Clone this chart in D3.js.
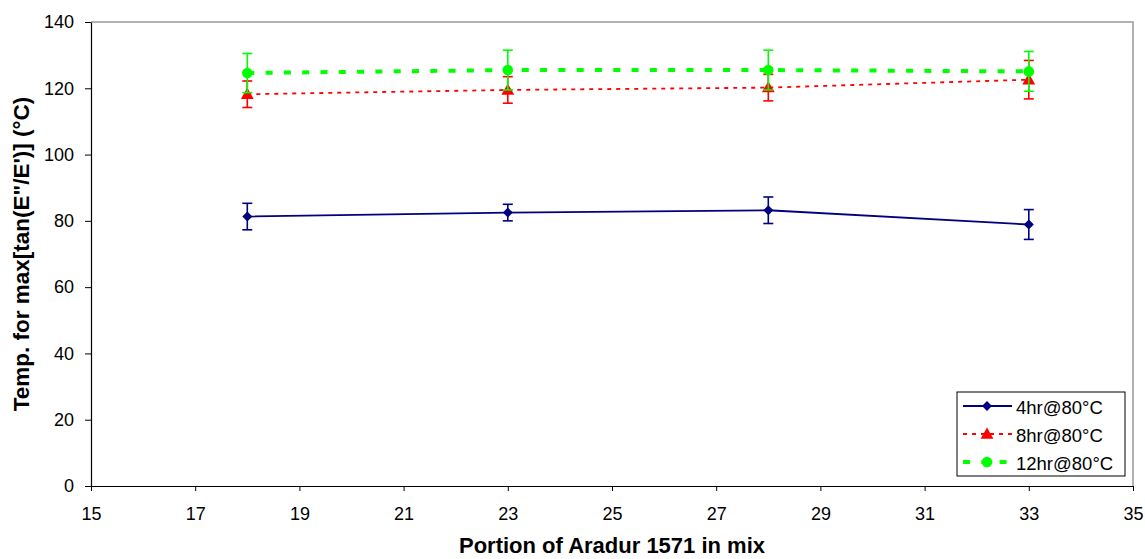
<!DOCTYPE html>
<html>
<head>
<meta charset="utf-8">
<script src="https://cdn.jsdelivr.net/npm/d3@7"></script>
<style>
  html, body { margin: 0; padding: 0; background: #fff; }
  svg { display: block; font-family: Arial, "Liberation Sans", sans-serif; }
</style>
</head>
<body>
<svg id="chart" width="1145" height="559"></svg>
<script>
// Portion of Aradur 1571 in the mix
const portions = [18, 23, 28, 33];

// Temperature at max tan(E"/E') per cure schedule, with error bar half-widths
const temp4hr  = [81.3, 82.5, 83.2, 78.9];
const err4hr   = [4.0, 2.5, 4.0, 4.5];
const temp8hr  = [118.2, 119.5, 120.2, 122.6];
const err8hr   = [4.0, 4.0, 4.0, 5.8];
const temp12hr = [124.6, 125.5, 125.5, 125.1];
const err12hr  = [5.9, 6.0, 6.0, 6.0];

const seriesNames = ["4hr@80°C", "8hr@80°C", "12hr@80°C"];
const xTicks = [15, 17, 19, 21, 23, 25, 27, 29, 31, 33, 35];
const yTicks = [0, 20, 40, 60, 80, 100, 120, 140];

const series = [
  { name: seriesNames[0], values: temp4hr,  errors: err4hr,  color: "#000080", dash: null,   width: 1.8, marker: "diamond" },
  { name: seriesNames[1], values: temp8hr,  errors: err8hr,  color: "#ff0000", dash: "4,5",  width: 1.8, marker: "triangle" },
  { name: seriesNames[2], values: temp12hr, errors: err12hr, color: "#00ff00", dash: "7,11.3", width: 4, marker: "circle" }
];

const svg = d3.select("#chart");
const margin = { left: 91, right: 12, top: 22, bottom: 73 };
const W = 1145, H = 559;

const x = d3.scaleLinear().domain([15, 35]).range([margin.left, W - margin.right]);
const y = d3.scaleLinear().domain([0, 140]).range([H - margin.bottom, margin.top]);

// Plot area border (top and right)
svg.append("path")
  .attr("d", `M${x(15)},${y(140)}H${x(35)}V${y(0)}`)
  .attr("fill", "none").attr("stroke", "#999").attr("stroke-width", 1.5);

// Axes
const xAxis = svg.append("g")
  .attr("transform", `translate(0,${y(0)})`)
  .call(d3.axisBottom(x).tickValues(xTicks).tickFormat(d3.format("d")).tickSize(5).tickSizeOuter(0));
const yAxis = svg.append("g")
  .attr("transform", `translate(${x(15)},0)`)
  .call(d3.axisLeft(y).tickValues(yTicks).tickFormat(d3.format("d")).tickSize(6).tickSizeOuter(0));

[xAxis, yAxis].forEach(g => {
  g.select(".domain").attr("stroke", "#000").attr("stroke-width", 1.2);
  g.selectAll(".tick line").attr("stroke", "#000");
  g.selectAll(".tick text").attr("fill", "#000").style("font-size", "18px")
    .style("font-family", "Arial, 'Liberation Sans', sans-serif");
});
xAxis.selectAll(".tick text").attr("y", 34).attr("dy", null);
yAxis.selectAll(".tick text").attr("x", -17);

// Axis titles
svg.append("text")
  .attr("x", (x(15) + x(35)) / 2).attr("y", 553)
  .attr("text-anchor", "middle")
  .style("font-size", "22px").style("font-weight", "bold")
  .text("Portion of Aradur 1571 in mix");
svg.append("text")
  .attr("transform", `translate(29,${(y(0) + y(140)) / 2}) rotate(-90)`)
  .attr("text-anchor", "middle")
  .style("font-size", "22.5px").style("font-weight", "bold")
  .text("Temp. for max[tan(E\"/E')] (°C)");

function drawMarker(g, type, cx, cy, color) {
  if (type === "diamond") {
    g.append("path").attr("d", d3.symbol(d3.symbolDiamond2, 64)())
      .attr("transform", `translate(${cx},${cy})`).attr("fill", color);
  } else if (type === "triangle") {
    g.append("path").attr("d", d3.symbol(d3.symbolTriangle, 72)())
      .attr("transform", `translate(${cx},${cy + 1})`).attr("fill", color);
  } else {
    g.append("circle").attr("cx", cx).attr("cy", cy).attr("r", 5.3).attr("fill", color);
  }
}

const line = d3.line().x(d => x(d[0])).y(d => y(d[1]));

series.forEach(s => {
  const g = svg.append("g");
  const pts = portions.map((p, i) => [p, s.values[i], s.errors[i]]);
  // Error bars
  pts.forEach(([p, v, e]) => {
    const cx = x(p);
    g.append("line").attr("x1", cx).attr("x2", cx).attr("y1", y(v - e)).attr("y2", y(v + e))
      .attr("stroke", s.color).attr("stroke-width", 1.6);
    [v - e, v + e].forEach(t => {
      g.append("line").attr("x1", cx - 5).attr("x2", cx + 5).attr("y1", y(t)).attr("y2", y(t))
        .attr("stroke", s.color).attr("stroke-width", 1.6);
    });
  });
  // Series line
  g.append("path").datum(pts).attr("d", line)
    .attr("fill", "none").attr("stroke", s.color).attr("stroke-width", s.width)
    .attr("stroke-dasharray", s.dash);
  pts.forEach(([p, v]) => drawMarker(g, s.marker, x(p), y(v), s.color));
});

// Legend
const lg = svg.append("g").attr("transform", "translate(957,392)");
lg.append("rect").attr("width", 168).attr("height", 84)
  .attr("fill", "#fff").attr("stroke", "#000").attr("stroke-width", 1);
series.forEach((s, i) => {
  const ly = 14 + i * 28;
  lg.append("line").attr("x1", 6).attr("x2", 55).attr("y1", ly).attr("y2", ly)
    .attr("stroke", s.color).attr("stroke-width", s.width).attr("stroke-dasharray", s.dash);
  drawMarker(lg, s.marker, 30, ly, s.color);
  lg.append("text").attr("x", 59).attr("y", ly + 8)
    .style("font-size", "18.5px").text(s.name);
});
</script>
</body>
</html>
